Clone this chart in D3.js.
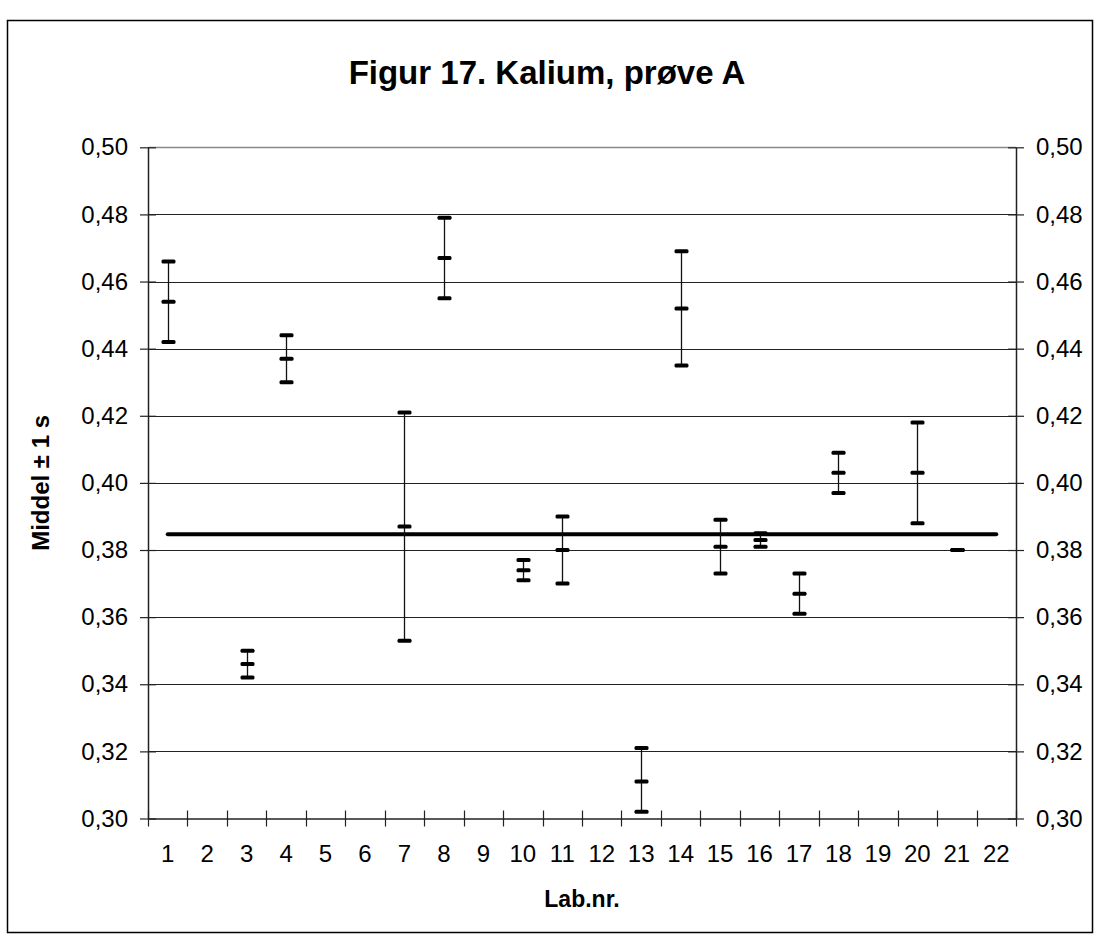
<!DOCTYPE html>
<html>
<head>
<meta charset="utf-8">
<script src="https://cdn.jsdelivr.net/npm/d3@7"></script>
<style>
  html, body { margin: 0; padding: 0; background: #fff; }
  svg { display: block; font-family: "Liberation Sans", Arial, sans-serif; }
</style>
</head>
<body>
<svg id="chart" width="1096" height="940"></svg>
<script>
// ---- data ----
const categories = d3.range(1, 23).map(String);          // x tick labels 1..22
const labs  = ["1","3","4","7","8","10","11","13","14","15","16","17","18","20","21"];
const means = [0.454,0.346,0.437,0.387,0.467,0.374,0.380,0.311,0.452,0.381,0.383,0.367,0.403,0.403,0.380];
const lows  = [0.442,0.342,0.430,0.353,0.455,0.371,0.370,0.302,0.435,0.373,0.381,0.361,0.397,0.388,0.380];
const highs = [0.466,0.350,0.444,0.421,0.479,0.377,0.390,0.321,0.469,0.389,0.385,0.373,0.409,0.418,0.380];
const refValue = 0.3847;
const yTicks = [0.30,0.32,0.34,0.36,0.38,0.40,0.42,0.44,0.46,0.48,0.50];
const titleText = "Figur 17. Kalium, prøve A";
const xTitle = "Lab.nr.";
const yTitle = "Middel ± 1 s";

// ---- layout ----
const svg = d3.select("#chart");
const plot = { left: 148, right: 1016, top: 147.3, bottom: 818.5 };
const fmt = v => d3.format(".2f")(v).replace(".", ",");

const x = d3.scaleBand().domain(categories).range([plot.left, plot.right]).padding(0);
const y = d3.scaleLinear().domain([0.30, 0.50]).range([plot.bottom, plot.top]);

// outer border
svg.append("rect").attr("x", 7.5).attr("y", 20.5).attr("width", 1085).attr("height", 912)
  .attr("fill", "#fff").attr("stroke", "#000").attr("stroke-width", 1.5);

// title
svg.append("text").attr("x", 547).attr("y", 84).attr("text-anchor", "middle")
  .attr("font-size", 33).attr("font-weight", "bold").text(titleText);

// gridlines
svg.append("g").selectAll("line").data(yTicks.filter(t => t > 0.30)).join("line")
  .attr("x1", plot.left).attr("x2", plot.right)
  .attr("y1", d => Math.round(y(d)) + 0.5).attr("y2", d => Math.round(y(d)) + 0.5)
  .attr("stroke", d => d === 0.50 ? "#888" : "#222").attr("stroke-width", d => d === 0.50 ? 1.6 : 1.2);

// left axis
const yAxisL = d3.axisLeft(y).tickValues(yTicks).tickFormat(fmt).tickSizeInner(8).tickSizeOuter(0).tickPadding(12);
const gL = svg.append("g").attr("transform", `translate(${plot.left},0)`).call(yAxisL);
gL.select(".domain").attr("stroke", "#222").attr("stroke-width", 1.5);
gL.selectAll(".tick line").attr("x1", 8).attr("x2", -8).attr("stroke", "#222").attr("stroke-width", 1.2);
gL.selectAll(".tick text").attr("font-size", 24).attr("fill", "#000").attr("font-family", "Liberation Sans, Arial, sans-serif").attr("x", -20);

// right axis
const yAxisR = d3.axisRight(y).tickValues(yTicks).tickFormat(fmt).tickSizeInner(8).tickSizeOuter(0).tickPadding(12);
const gR = svg.append("g").attr("transform", `translate(${plot.right},0)`).call(yAxisR);
gR.select(".domain").attr("stroke", "#222").attr("stroke-width", 1.5);
gR.selectAll(".tick line").attr("x1", -8).attr("x2", 8).attr("stroke", "#222").attr("stroke-width", 1.2);
gR.selectAll(".tick text").attr("font-size", 24).attr("fill", "#000").attr("font-family", "Liberation Sans, Arial, sans-serif").attr("x", 20);

// bottom axis (labels centered in bands, ticks at band boundaries)
const xAxis = d3.axisBottom(x).tickSize(0).tickPadding(26);
const gB = svg.append("g").attr("transform", `translate(0,${plot.bottom})`).call(xAxis);
gB.select(".domain").attr("stroke", "#222").attr("stroke-width", 1.5);
gB.selectAll(".tick text").attr("font-size", 24).attr("fill", "#000").attr("font-family", "Liberation Sans, Arial, sans-serif");
const bounds = categories.map(c => x(c)).concat([plot.right]);
gB.selectAll("line.bt").data(bounds).join("line").attr("class", "bt")
  .attr("x1", d => Math.round(d) + 0.5).attr("x2", d => Math.round(d) + 0.5)
  .attr("y1", -8).attr("y2", 8).attr("stroke", "#222").attr("stroke-width", 1.2);

// axis titles
svg.append("text").attr("x", (plot.left + plot.right) / 2).attr("y", 907).attr("text-anchor", "middle")
  .attr("font-size", 23).attr("font-weight", "bold").text(xTitle);
svg.append("text").attr("transform", `translate(49,${(plot.top + plot.bottom) / 2}) rotate(-90)`)
  .attr("text-anchor", "middle").attr("font-size", 24).attr("font-weight", "bold").text(yTitle);

// reference line
svg.append("line")
  .attr("x1", x("1") + x.bandwidth() / 2).attr("x2", x("22") + x.bandwidth() / 2)
  .attr("y1", y(refValue)).attr("y2", y(refValue))
  .attr("stroke", "#000").attr("stroke-width", 4).attr("stroke-linecap", "round");

// error bars
const rows = labs.map((l, i) => ({ lab: l, mean: means[i], low: lows[i], high: highs[i] }));
const gE = svg.append("g");
const cx = d => Math.round(x(d.lab) + x.bandwidth() / 2) + 0.5;
gE.selectAll("line.v").data(rows).join("line").attr("class", "v")
  .attr("x1", cx).attr("x2", cx)
  .attr("y1", d => y(d.high)).attr("y2", d => y(d.low))
  .attr("stroke", "#111").attr("stroke-width", 1.3);
["high", "mean", "low"].forEach(k => {
  gE.selectAll("rect." + k).data(rows).join("rect").attr("class", k)
    .attr("x", d => cx(d) - 7).attr("y", d => y(d[k]) - 2)
    .attr("width", 14).attr("height", 4).attr("rx", 1.5)
    .attr("fill", "#000");
});
</script>
</body>
</html>
